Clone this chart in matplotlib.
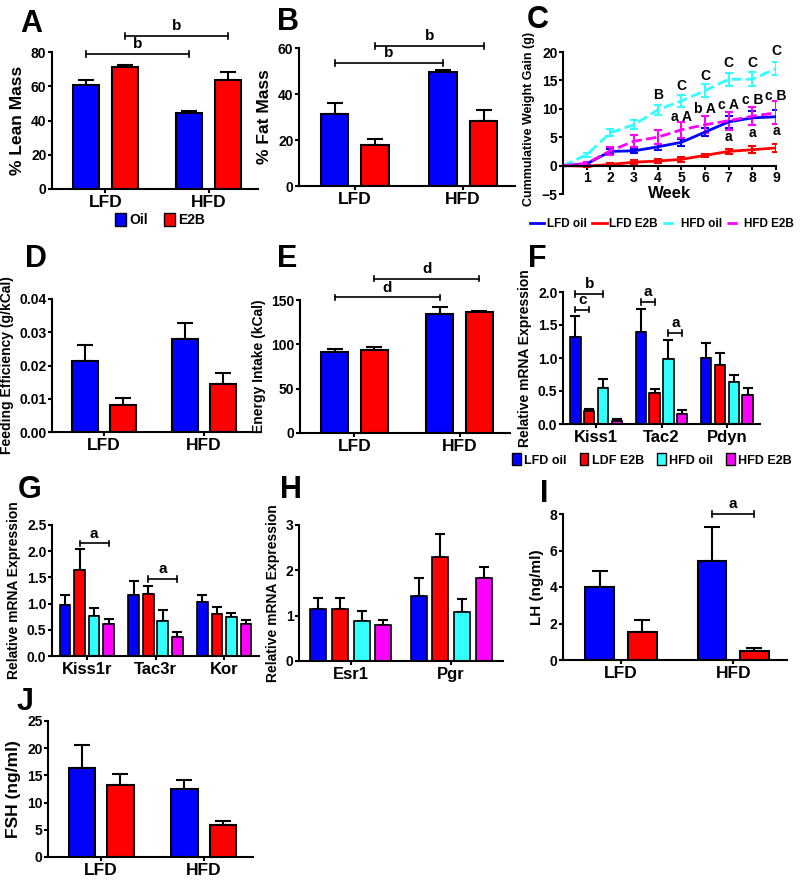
import numpy as np
import matplotlib
matplotlib.use('Agg')
import matplotlib.pyplot as plt
from matplotlib.patches import Patch
from matplotlib.lines import Line2D

plt.rcParams['font.family'] = ['Liberation Sans', 'DejaVu Sans']
plt.rcParams['font.weight'] = 'bold'
plt.rcParams['axes.labelweight'] = 'bold'

BLUE = '#0000ff'
RED = '#ff0000'
CYAN = '#33ffff'
MAGENTA = '#ff00ff'
FOUR = [BLUE, RED, CYAN, MAGENTA]

diets = ['LFD', 'HFD']

# A - % lean mass
lean_oil, lean_oil_err = [60.5, 44.5], [3.0, 0.8]
lean_e2b, lean_e2b_err = [71.0, 63.5], [1.5, 5.0]
# B - % fat mass
fat_oil, fat_oil_err = [31.5, 49.5], [4.8, 0.8]
fat_e2b, fat_e2b_err = [18.0, 28.3], [2.3, 4.7]
# C - cumulative weight gain
weeks = [0, 1, 2, 3, 4, 5, 6, 7, 8, 9]
lfd_oil_gain = [0, 0.3, 2.5, 2.6, 3.3, 4.1, 5.9, 7.7, 8.4, 8.6]
lfd_oil_gain_err = [0, 0.3, 0.4, 0.4, 0.5, 0.6, 0.7, 1.0, 1.2, 1.2]
lfd_e2b_gain = [0, -0.1, 0.2, 0.6, 0.8, 1.1, 1.8, 2.5, 2.8, 3.1]
lfd_e2b_gain_err = [0, 0.2, 0.3, 0.4, 0.4, 0.4, 0.3, 0.5, 0.6, 0.7]
hfd_oil_gain = [0, 1.9, 5.8, 7.2, 9.8, 11.4, 13.2, 15.2, 15.2, 17.1]
hfd_oil_gain_err = [0, 0.4, 0.6, 0.8, 0.9, 1.1, 1.2, 1.1, 1.2, 1.2]
hfd_e2b_gain = [0, 0.4, 2.6, 4.3, 5.0, 6.3, 7.2, 7.9, 8.7, 9.3]
hfd_e2b_gain_err = [0, 0.3, 0.7, 1.0, 1.2, 1.4, 1.5, 1.6, 1.6, 2.0]
c_ann_week = [4, 5, 5, 6, 6, 7, 7, 7, 8, 8, 8, 9, 9, 9]
c_ann_y = [12.4, 14.0, 8.6, 15.7, 9.9, 18.0, 10.7, 5.0, 18.0, 11.5, 5.8, 20.2, 12.3, 6.1]
c_ann_txt = ['B', 'C', 'a A', 'C', 'b A', 'C', 'c A', 'a', 'C', 'c B', 'a', 'C', 'c B', 'a']
# D - feeding efficiency
fe_oil, fe_oil_err = [0.0213, 0.0281], [0.0050, 0.0047]
fe_e2b, fe_e2b_err = [0.0082, 0.0143], [0.0020, 0.0035]
# E - energy intake
ei_oil, ei_oil_err = [91, 134], [4, 8]
ei_e2b, ei_e2b_err = [94, 136], [3, 2]
# F - hypothalamic genes
f_genes = ['Kiss1', 'Tac2', 'Pdyn']
f_vals = [[1.32, 1.40, 1.00], [0.19, 0.47, 0.90], [0.55, 0.98, 0.63], [0.05, 0.15, 0.44]]
f_errs = [[0.32, 0.35, 0.22], [0.03, 0.06, 0.18], [0.13, 0.29, 0.11], [0.02, 0.06, 0.10]]
# G - receptor genes
g_genes = ['Kiss1r', 'Tac3r', 'Kor']
g_vals = [[0.98, 1.16, 1.03], [1.65, 1.19, 0.81], [0.77, 0.66, 0.75], [0.61, 0.37, 0.61]]
g_errs = [[0.18, 0.28, 0.13], [0.40, 0.15, 0.13], [0.14, 0.21, 0.08], [0.09, 0.09, 0.08]]
# H - steroid receptors
h_genes = ['Esr1', 'Pgr']
h_vals = [[1.15, 1.44], [1.15, 2.30], [0.89, 1.09], [0.79, 1.83]]
h_errs = [[0.24, 0.40], [0.24, 0.50], [0.21, 0.27], [0.11, 0.25]]
# I - LH, J - FSH
lh_oil, lh_oil_err = [4.0, 5.45], [0.85, 1.85]
lh_e2b, lh_e2b_err = [1.52, 0.51], [0.68, 0.17]
fsh_oil, fsh_oil_err = [16.4, 12.5], [4.1, 1.6]
fsh_e2b, fsh_e2b_err = [13.2, 5.8], [2.0, 0.9]

W, H = 800, 881
fig = plt.figure(figsize=(W / 100, H / 100), dpi=100)


def px_axes(l, t, r, b):
    return fig.add_axes([l / W, 1 - b / H, (r - l) / W, (b - t) / H])


def style(ax):
    for s in ['top', 'right']:
        ax.spines[s].set_visible(False)
    for s in ['left', 'bottom']:
        ax.spines[s].set_linewidth(1.5)
    ax.tick_params(width=1.5, length=3, labelsize=10, pad=1)


def bracket(ax, x1, x2, y, txt):
    h = (ax.get_ylim()[1] - ax.get_ylim()[0]) * 0.02
    ax.plot([x1, x2], [y, y], color='k', lw=1.2, clip_on=False)
    ax.plot([x1, x1], [y - h, y + h], color='k', lw=1.2, clip_on=False)
    ax.plot([x2, x2], [y - h, y + h], color='k', lw=1.2, clip_on=False)
    ax.text((x1 + x2) / 2, y + h, txt, ha='center', va='bottom', fontsize=11)


GP = 2.65


def two_group(ax, oil, oil_err, e2b, e2b_err, ymax, step, ylabel, ylsize=10):
    x_oil = np.array([0, GP])
    x_e2b = x_oil + 1
    for x, v, e, c in [(x_oil, oil, oil_err, BLUE), (x_e2b, e2b, e2b_err, RED)]:
        ax.errorbar(x, v, yerr=[np.zeros(len(e)), e], fmt='none', ecolor='k',
                    elinewidth=1.5, capsize=5.5, capthick=1.5, zorder=1)
        ax.bar(x, v, 0.68, color=c, edgecolor='k', linewidth=1.5, zorder=2)
    ax.set_xlim(-0.87, GP + 1.77)
    ax.set_xticks(x_oil + 0.5)
    ax.set_xticklabels(diets)
    ax.set_ylim(0, ymax)
    ax.set_yticks(np.arange(0, ymax + step / 2, step))
    ax.set_ylabel(ylabel, fontsize=ylsize)
    style(ax)
    ax.tick_params(axis='x', labelsize=12.5)
    return x_oil, x_e2b


def four_group(ax, genes, vals, errs, ymax, step, pitch, ylabel):
    xs = []
    for k in range(4):
        x = np.arange(len(genes)) * pitch + k - 1.5
        xs.append(x)
        ax.errorbar(x, vals[k], yerr=[np.zeros(len(genes)), errs[k]], fmt='none',
                    ecolor='k', elinewidth=1.5, capsize=3.5, capthick=1.5, zorder=1)
        ax.bar(x, vals[k], 0.74, color=FOUR[k], edgecolor='k', linewidth=1.2, zorder=2)
    ax.set_xlim(-2.4, (len(genes) - 1) * pitch + 2.4)
    ax.set_xticks(np.arange(len(genes)) * pitch)
    ax.set_xticklabels(genes)
    ax.set_ylim(0, ymax)
    ax.set_yticks(np.arange(0, ymax + step / 2, step))
    ax.set_ylabel(ylabel, fontsize=10)
    style(ax)
    ax.tick_params(axis='x', labelsize=12)
    return xs


# A
ax = px_axes(52, 52, 258, 189)
xo, xe = two_group(ax, lean_oil, lean_oil_err, lean_e2b, lean_e2b_err, 80, 20,
                   '% Lean Mass', 12.5)
bracket(ax, xo[0], xo[1], 78.8, 'b')
bracket(ax, xe[0], xe[1], 89.4, 'b')
fig.legend(handles=[Patch(facecolor=BLUE, edgecolor='k', label='Oil'),
                    Patch(facecolor=RED, edgecolor='k', label='E2B')],
           loc='center', bbox_to_anchor=(160 / W, 1 - 220 / H), ncol=2, frameon=False,
           handlelength=0.8, handleheight=1.1, handletextpad=0.2, columnspacing=1.2,
           fontsize=10)

# B
ax = px_axes(299, 48, 515, 186)
xo, xe = two_group(ax, fat_oil, fat_oil_err, fat_e2b, fat_e2b_err, 60, 20,
                   '% Fat Mass', 12.5)
bracket(ax, xo[0], xo[1], 53.5, 'b')
bracket(ax, xe[0], xe[1], 60.9, 'b')

# C
ax = px_axes(563, 52, 776, 194)
series = [(lfd_oil_gain, lfd_oil_gain_err, BLUE, '-', 'LFD oil'),
          (lfd_e2b_gain, lfd_e2b_gain_err, RED, '-', 'LFD E2B'),
          (hfd_oil_gain, hfd_oil_gain_err, CYAN, '--', 'HFD oil'),
          (hfd_e2b_gain, hfd_e2b_gain_err, MAGENTA, '--', 'HFD E2B')]
handles = []
for v, e, c, ls, lab in series:
    ax.errorbar(weeks, v, yerr=e, color=c, ls=ls, lw=2, elinewidth=1.5,
                capsize=3, capthick=1.5)
    handles.append(Line2D([0], [0], color=c, ls=ls, lw=2, label=lab))
for wk, y, t in zip(c_ann_week, c_ann_y, c_ann_txt):
    ax.text(wk, y, t, ha='center', va='center', fontsize=10)
ax.set_xlim(0, 9)
ax.set_ylim(-5, 20)
ax.set_yticks([-5, 0, 5, 10, 15, 20])
ax.set_xticks(range(1, 10))
ax.spines['bottom'].set_position(('data', 0))
style(ax)
ax.text(4.5, -4.9, 'Week', ha='center', va='center', fontsize=12)
ax.set_ylabel('Cummulative Weight Gain (g)', fontsize=9)
ax.yaxis.set_label_coords(-0.13, 0.53)
fig.legend(handles=handles, loc='center', bbox_to_anchor=(662 / W, 1 - 224 / H), ncol=4,
           frameon=False, handlelength=1.2, handletextpad=0.25, columnspacing=0.45,
           fontsize=8.5)

# D
ax = px_axes(52, 299, 252, 432)
two_group(ax, fe_oil, fe_oil_err, fe_e2b, fe_e2b_err, 0.04, 0.01, 'Feeding Efficiency (g/kCal)')
ax.yaxis.set_major_formatter(matplotlib.ticker.FormatStrFormatter('%.2f'))

# E
ax = px_axes(300, 300, 510, 433)
xo, xe = two_group(ax, ei_oil, ei_oil_err, ei_e2b, ei_e2b_err, 150, 50, 'Energy Intake (kCal)')
bracket(ax, xo[0], xo[1], 153, 'd')
bracket(ax, xe[0], xe[1], 174, 'd')

# F
ax = px_axes(563, 292, 760, 424)
xs = four_group(ax, f_genes, f_vals, f_errs, 2.0, 0.5, 4.7, 'Relative mRNA Expression')
ax.yaxis.set_major_formatter(matplotlib.ticker.FormatStrFormatter('%.1f'))
bracket(ax, xs[0][0], xs[1][0], 1.73, 'c')
bracket(ax, xs[0][0], xs[2][0], 1.97, 'b')
bracket(ax, xs[0][1], xs[1][1], 1.85, 'a')
bracket(ax, xs[2][1], xs[3][1], 1.38, 'a')
fig.legend(handles=[Patch(facecolor=c, edgecolor='k', label=l)
                    for c, l in zip(FOUR, ['LFD oil', 'LDF E2B', 'HFD oil', 'HFD E2B'])],
           loc='center', bbox_to_anchor=(652 / W, 1 - 460 / H), ncol=4, frameon=False,
           handlelength=0.7, handleheight=1.1, handletextpad=0.3, columnspacing=1.0,
           fontsize=9)

# G
ax = px_axes(52, 525, 259, 656)
xs = four_group(ax, g_genes, g_vals, g_errs, 2.5, 0.5, 4.73, 'Relative mRNA Expression')
ax.yaxis.set_major_formatter(matplotlib.ticker.FormatStrFormatter('%.1f'))
bracket(ax, xs[1][0], xs[3][0], 2.15, 'a')
bracket(ax, xs[1][1], xs[3][1], 1.47, 'a')

# H
ax = px_axes(299, 525, 503, 661)
four_group(ax, h_genes, h_vals, h_errs, 3, 1, 4.66, 'Relative mRNA Expression')

# I
ax = px_axes(563, 514, 787, 660)
xo, xe = two_group(ax, lh_oil, lh_oil_err, lh_e2b, lh_e2b_err, 8, 2, 'LH (ng/ml)', 11)
bracket(ax, xo[1], xe[1], 8.0, 'a')

# J
ax = px_axes(48, 721, 253, 857)
two_group(ax, fsh_oil, fsh_oil_err, fsh_e2b, fsh_e2b_err, 25, 5, 'FSH (ng/ml)', 12.5)

# panel letters (x, baseline y in pixels)
letters = [('A', 20, 32), ('B', 277, 30), ('C', 527, 28), ('D', 25, 267), ('E', 277, 267),
           ('F', 528, 267), ('G', 18, 498), ('H', 280, 498), ('I', 540, 502), ('J', 17, 710)]
for t, x, y in letters:
    fig.text(x / W, 1 - y / H, t, fontsize=22, fontweight='bold', va='baseline')

fig.savefig('out.png', dpi=100)
